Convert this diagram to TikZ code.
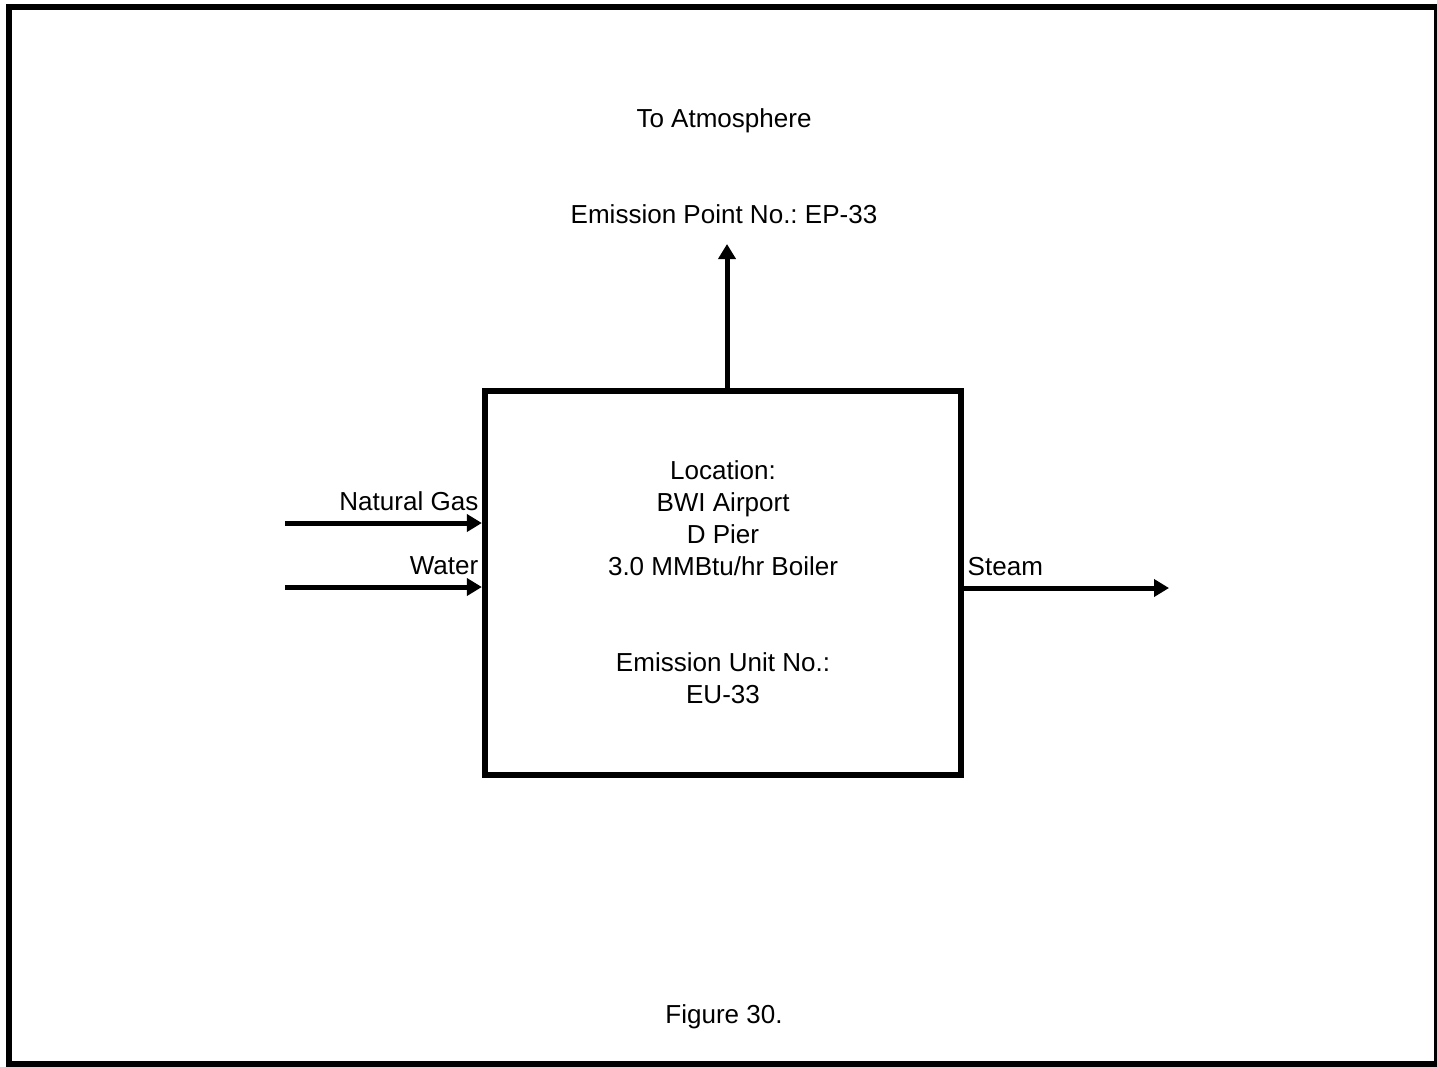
\documentclass[tikz,border=0pt]{standalone}
\usepackage{fontspec}
\setmainfont{Liberation Sans}
\usetikzlibrary{arrows.meta}
\frenchspacing

\begin{document}
\begin{tikzpicture}[
    x=0.01cm, y=-0.01cm,
    box/.style={%
      draw,
      rectangle,
      line width=0.06cm,
      minimum width=4.76cm,
      minimum height=3.84cm,
    },
    flow/.style={%
      line width=0.05cm,
      -{Triangle[length=0.15cm,width=0.17cm]},
    },
    txt/.style={%
      font=\fontsize{7.4pt}{0.317cm}\selectfont,
      inner sep=0pt,
    },
  ]

    \useasboundingbox (0,0) rectangle (1437,1066);
    \draw [line width=0.06cm] (9,7) rectangle (1437,1064);

    \node [box] (boiler) at (723,583) {};
    \node [txt, align=center, anchor=base] (loc) at (723,575) {Location:\\BWI Airport\\D Pier\\3.0 MMBtu/hr Boiler};
    \node [txt, align=center, anchor=base] (eu) at (723,703) {Emission Unit No.:\\EU-33};

    \coordinate (stack) at (727,244);
    \coordinate (gasin) at (285,523);
    \coordinate (waterin) at (285,587);
    \coordinate (steamout) at (1169,588);

    \node [txt, anchor=base] (ep) at (724,223) {Emission Point No.: EP-33};
    \node [txt, anchor=base] (atm) at (724,127) {To Atmosphere};
    \node [txt, anchor=base east] (gas) at (479,510) {Natural Gas};
    \node [txt, anchor=base east] (water) at (479,574) {Water};
    \node [txt, anchor=base west] (steam) at (967,575) {Steam};
    \node [txt, anchor=base] (fig) at (724,1023) {Figure 30.};

    \draw [flow] (boiler.north -| stack) -- (stack);
    \draw [flow] (gasin) -- (boiler.west |- gasin);
    \draw [flow] (waterin) -- (boiler.west |- waterin);
    \draw [flow] (boiler.east |- steamout) -- (steamout);

\end{tikzpicture}
\end{document}
